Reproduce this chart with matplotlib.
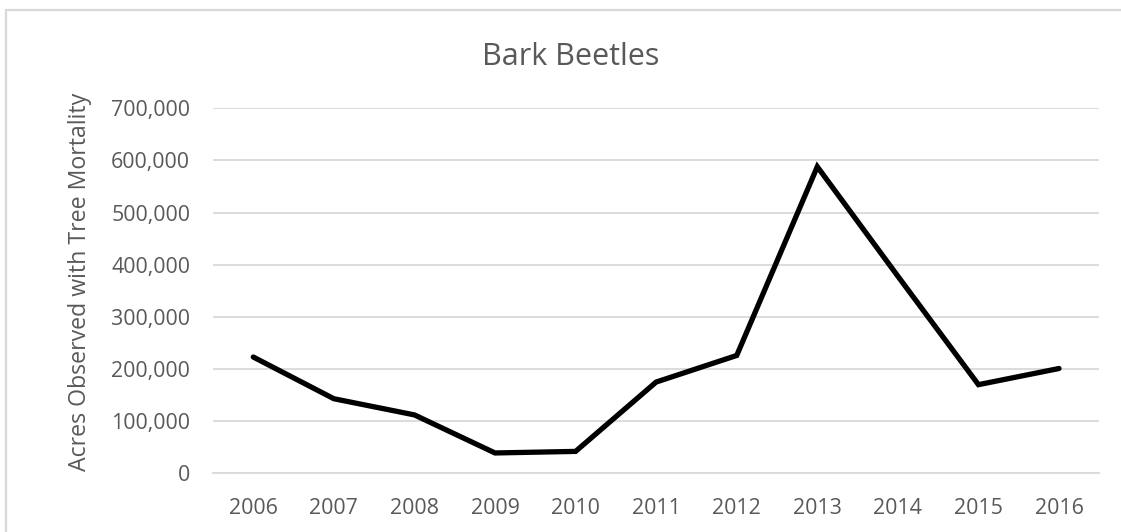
import matplotlib
matplotlib.use("Agg")
import matplotlib.pyplot as plt
from matplotlib.patches import Rectangle
from matplotlib.ticker import FuncFormatter

years = ["2006", "2007", "2008", "2009", "2010", "2011", "2012", "2013", "2014", "2015", "2016"]
acres = [223000, 143000, 112000, 39000, 42000, 175000, 226000, 588000, 378000, 170000, 201000]
y_ticks = [0, 100000, 200000, 300000, 400000, 500000, 600000, 700000]
title = "Bark Beetles"
y_label = "Acres Observed with Tree Mortality"

plt.rcParams['font.family'] = ['Open Sans', 'DejaVu Sans']
text_color = "#595959"
grid_color = "#D9D9D9"

W, H = 1121, 532
fig = plt.figure(figsize=(W / 100, H / 100), dpi=100)

left, right = 213 / W, 1099.3 / W
bottom, top = (H - 473.3) / H, (H - 108.3) / H
ax = fig.add_axes([left, bottom, right - left, top - bottom])

x = list(range(len(years)))
ax.plot(x, acres, color="black", linewidth=3.8, solid_joinstyle="miter",
        solid_capstyle="round", zorder=3)

ax.set_xlim(-0.5, len(years) - 0.5)
ax.set_ylim(0, 700000)
ax.set_yticks(y_ticks)
ax.yaxis.set_major_formatter(FuncFormatter(lambda v, p: f"{int(v):,}"))
ax.set_xticks(x)
ax.set_xticklabels(years)

ax.grid(axis="y", color=grid_color, linewidth=1.3, zorder=0)
ax.set_axisbelow(True)
for s in ["top", "right", "left"]:
    ax.spines[s].set_visible(False)
ax.spines["bottom"].set_color(grid_color)
ax.spines["bottom"].set_linewidth(1.3)

ax.tick_params(axis="y", length=0, pad=16.5, labelsize=15.4, labelcolor=text_color)
ax.tick_params(axis="x", length=0, pad=17.5, labelsize=15.4, labelcolor=text_color)

fig.text(571 / W, (H - 65) / H, title, ha="center", va="baseline",
         fontsize=22, color=text_color)
fig.text(80 / W, (H - 281.5) / H, y_label, ha="center", va="center",
         rotation=90, fontsize=16.7, color=text_color)

# chart border (clipped at right and bottom as in reference)
fig.patches.append(Rectangle((6 / W, -0.2), 2.0, (H - 10) / H + 0.2,
                             transform=fig.transFigure, fill=False,
                             edgecolor=grid_color, linewidth=1.6, zorder=0))

fig.savefig("out.png", dpi=100)
